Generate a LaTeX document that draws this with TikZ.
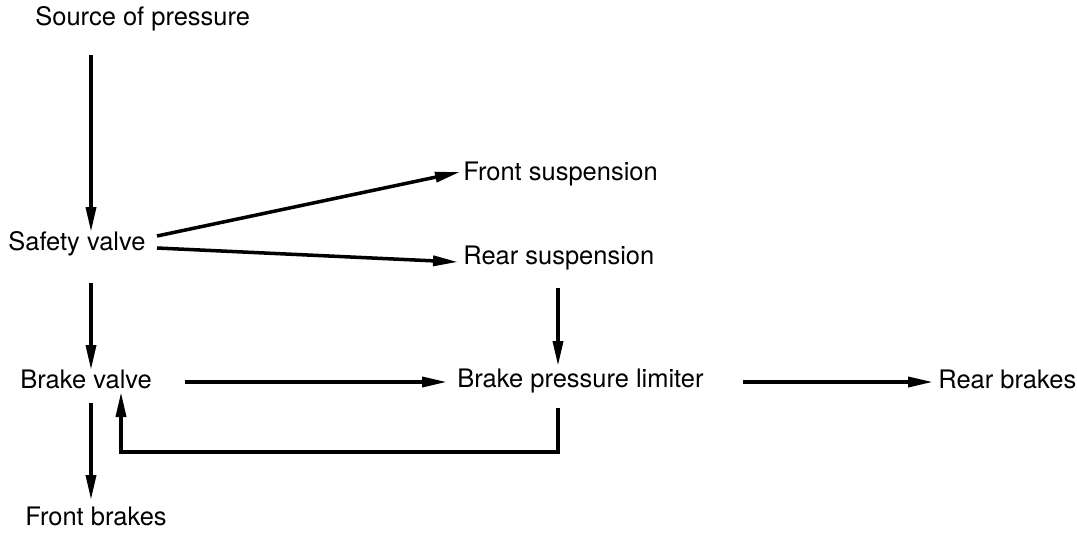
\documentclass[tikz,border=0pt]{standalone}
\usepackage{fontspec}
\setsansfont{TeX Gyre Heros}
\usepackage{tikz}
\usetikzlibrary{positioning,calc,arrows.meta}

\begin{document}
\begin{tikzpicture}[x=0.02cm, y=-0.02cm,
		lbl/.style={anchor=base west, inner sep=0pt, font=\fontsize{14.5}{18}\sffamily},
		arr/.style={-{Triangle[length=0.5cm,width=0.2cm]}, line width=2pt}]
		% Pressure distribution diagram
		\useasboundingbox (0,0) rectangle (1077,534);
		\node[lbl] (src) at (35,25) {Source of pressure};
		\node[lbl] (safety) at (8,250) {Safety valve};
		\node[lbl] (frontsusp) at (463,180) {Front suspension};
		\node[lbl] (rearsusp) at (463,264) {Rear suspension};
		\node[lbl] (brakev) at (20,388) {Brake valve};
		\node[lbl] (limiter) at (457,387) {Brake pressure limiter};
		\node[lbl] (rearbr) at (938,388) {Rear brakes};
		\node[lbl] (frontbr) at (25,525) {Front brakes};
		
		\draw[arr] ($(src.base west)+(56,30)$) -- ($(safety.base west)+(83,-18)$);
		\draw[arr] ($(safety.base west)+(149,-14)$) -- ($(frontsusp.base west)+(-3,-8)$);
		\draw[arr] ($(safety.base west)+(149,-2)$) -- ($(rearsusp.base west)+(-5,-2)$);
		\draw[arr] ($(safety.base west)+(83,33)$) -- ($(brakev.base west)+(71,-18)$);
		\draw[arr] ($(brakev.base west)+(165,-6)$) -- ($(limiter.base west)+(-10,-5)$);
		\draw[arr] ($(rearsusp.base west)+(95,24)$) -- ($(limiter.base west)+(101,-21)$);
		\draw[arr] ($(limiter.base west)+(286,-5)$) -- ($(rearbr.base west)+(-5,-6)$);
		\draw[arr] ($(limiter.base west)+(101,21)$) |- ($(brakev.base west)+(101,64)$) -- ($(brakev.base west)+(101,4)$);
		\draw[arr] ($(brakev.base west)+(71,15)$) -- ($(frontbr.base west)+(66,-25)$);
	\end{tikzpicture}
\end{document}
